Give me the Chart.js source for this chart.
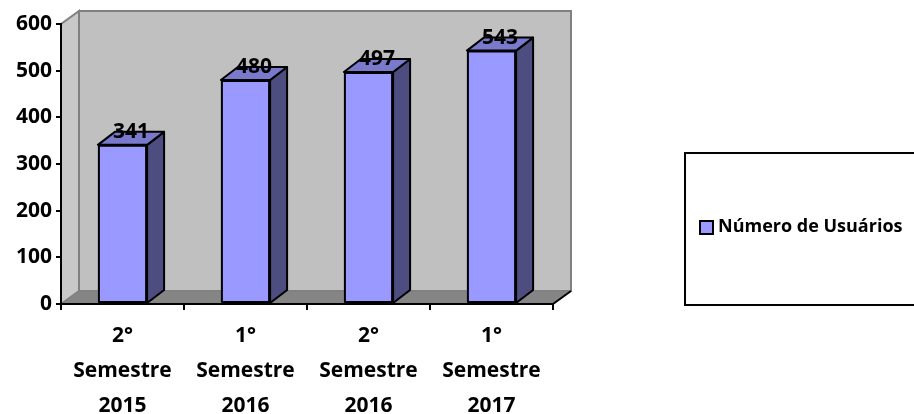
<!DOCTYPE html>
<html>
<head>
<meta charset="utf-8">
<title>Número de Usuários</title>
<script src="https://cdn.jsdelivr.net/npm/chart.js@4/dist/chart.umd.min.js"></script>
<style>
  html, body { margin: 0; padding: 0; background: #ffffff; }
  #wrap { width: 914px; height: 414px; position: relative; }
</style>
</head>
<body>
<div id="wrap"><canvas id="chart"></canvas></div>
<script>
// Semesters shown on the category axis (one array per multi-line label)
const categories = [
  ['2°', 'Semestre', '2015'],
  ['1°', 'Semestre', '2016'],
  ['2°', 'Semestre', '2016'],
  ['1°', 'Semestre', '2017']
];
// Registered users per semester
const usuarios = [341, 480, 497, 543];
const seriesName = 'Número de Usuários';
// Value axis ticks
const yTicks = [0, 100, 200, 300, 400, 500, 600];

const FONT = "'Open Sans', sans-serif";
const FRONT = '#9999FF';
const SIDE = '#4D4D80';
const TOP = '#7A7ACC';
const WALL_DEPTH = { dx: 18, dy: 13 };
const BAR_DEPTH = { dx: 17, dy: 13 };

function poly(ctx, pts, fill, stroke, lw) {
  ctx.beginPath();
  ctx.moveTo(pts[0][0], pts[0][1]);
  for (let i = 1; i < pts.length; i++) ctx.lineTo(pts[i][0], pts[i][1]);
  ctx.closePath();
  if (fill) { ctx.fillStyle = fill; ctx.fill(); }
  if (stroke) { ctx.strokeStyle = stroke; ctx.lineWidth = lw; ctx.stroke(); }
}

// Pseudo-3D walls, bar extrusions, value labels and the boxed legend
const depthPlugin = {
  id: 'depth3d',
  beforeDraw(chart) {
    const { ctx, chartArea: a } = chart;
    const { dx, dy } = WALL_DEPTH;
    ctx.save();
    ctx.lineJoin = 'miter';
    // back wall
    poly(ctx, [[a.left + dx, a.top - dy], [a.right + dx, a.top - dy],
               [a.right + dx, a.bottom - dy], [a.left + dx, a.bottom - dy]],
         '#C0C0C0', '#808080', 2);
    // side wall
    poly(ctx, [[a.left, a.bottom], [a.left, a.top], [a.left + dx, a.top - dy],
               [a.left + dx, a.bottom - dy]], '#C8C8C8', '#808080', 2);
    // floor
    poly(ctx, [[a.left, a.bottom], [a.right, a.bottom], [a.right + dx, a.bottom - dy],
               [a.left + dx, a.bottom - dy]], '#858585', '#808080', 1);
    ctx.beginPath();
    ctx.moveTo(a.right, a.bottom);
    ctx.lineTo(a.right + dx, a.bottom - dy);
    ctx.strokeStyle = '#000000';
    ctx.lineWidth = 2;
    ctx.stroke();
    ctx.restore();
  },
  afterDatasetsDraw(chart) {
    const { ctx } = chart;
    const { dx, dy } = BAR_DEPTH;
    const meta = chart.getDatasetMeta(0);
    const values = chart.data.datasets[0].data;
    ctx.save();
    ctx.lineJoin = 'round';
    meta.data.forEach((bar, i) => {
      const p = bar.getProps(['x', 'y', 'base', 'width'], true);
      const l = p.x - p.width / 2, r = p.x + p.width / 2;
      const t = p.y, b = p.base;
      poly(ctx, [[r, t], [r + dx, t - dy], [r + dx, b - dy], [r, b]], SIDE, '#000000', 2);
      poly(ctx, [[l, t], [l + dx, t - dy], [r + dx, t - dy], [r, t]], TOP, '#000000', 2);
      ctx.beginPath();
      ctx.rect(l + 1, t + 1, p.width - 2, b - t - 2);
      ctx.strokeStyle = '#000000';
      ctx.lineWidth = 2;
      ctx.stroke();
      ctx.fillStyle = '#000000';
      ctx.font = 'bold 21px ' + FONT;
      ctx.textAlign = 'center';
      ctx.textBaseline = 'middle';
      ctx.fillText(String(values[i]), p.x + dx / 2, t - dy);
    });
    ctx.restore();
  },
  afterDraw(chart) {
    const { ctx } = chart;
    const ds = chart.data.datasets[0];
    ctx.save();
    // legend frame (runs past the right edge of the canvas)
    ctx.strokeStyle = '#000000';
    ctx.lineWidth = 2;
    ctx.strokeRect(685, 153, 240, 152);
    // swatch
    ctx.fillStyle = ds.backgroundColor;
    ctx.fillRect(700, 221, 13, 13);
    ctx.lineWidth = 2;
    ctx.strokeRect(700, 221, 13, 13);
    // label
    ctx.fillStyle = '#000000';
    ctx.font = 'bold 18px ' + FONT;
    ctx.textAlign = 'left';
    ctx.textBaseline = 'middle';
    ctx.fillText(ds.label, 718, 227);
    ctx.restore();
  }
};

new Chart(document.getElementById('chart'), {
  type: 'bar',
  data: {
    labels: categories,
    datasets: [{
      label: seriesName,
      data: usuarios,
      backgroundColor: FRONT,
      borderColor: '#000000',
      borderWidth: 0,
      borderSkipped: false,
      barPercentage: 0.4,
      categoryPercentage: 1.0
    }]
  },
  options: {
    responsive: true,
    maintainAspectRatio: false,
    devicePixelRatio: 1,
    animation: false,
    layout: { padding: { left: 0, top: 24, right: 361, bottom: 0 } },
    plugins: {
      legend: { display: false },
      tooltip: { enabled: false }
    },
    scales: {
      x: {
        afterFit(s) { s.height = 110; },
        grid: {
          display: true, drawOnChartArea: false, drawTicks: true,
          tickLength: 6, color: '#000000', lineWidth: 2, offset: true
        },
        border: { display: true, color: '#000000', width: 2 },
        ticks: {
          color: '#000000',
          font: { family: FONT, weight: 'bold', size: 21, lineHeight: 35 / 21 },
          padding: 9,
          maxRotation: 0,
          autoSkip: false
        }
      },
      y: {
        min: yTicks[0],
        max: yTicks[yTicks.length - 1],
        afterFit(s) { s.width = 61; },
        afterBuildTicks(s) { s.ticks = yTicks.map(v => ({ value: v })); },
        grid: {
          display: true, drawOnChartArea: false, drawTicks: true,
          tickLength: 5, color: '#000000', lineWidth: 2
        },
        border: { display: true, color: '#000000', width: 2 },
        ticks: {
          color: '#000000',
          font: { family: FONT, weight: 'bold', size: 21 },
          padding: 4
        }
      }
    }
  },
  plugins: [depthPlugin]
});
</script>
</body>
</html>
